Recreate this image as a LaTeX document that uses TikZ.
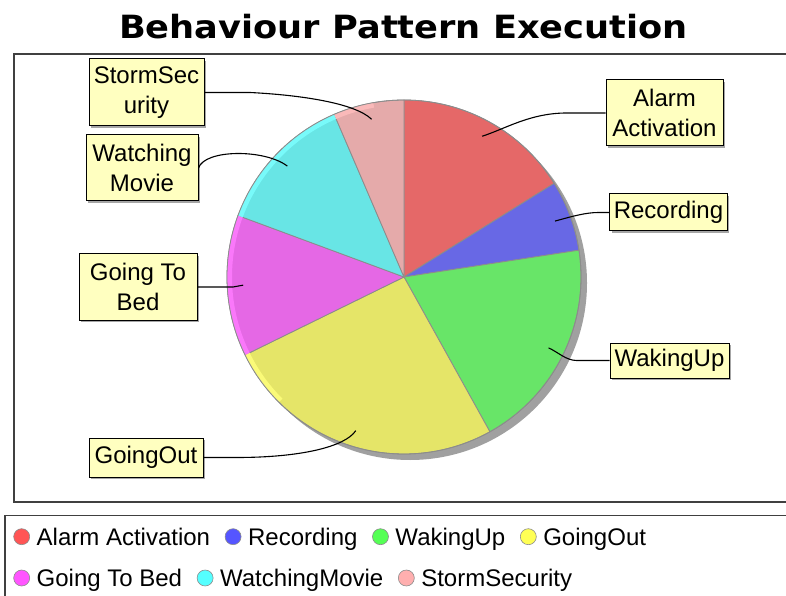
\documentclass[tikz,border=0pt]{standalone}
\usepackage{fontspec}
\usepackage{tikz}
\usetikzlibrary{positioning,shadows}

\newfontfamily\chartfont{Liberation Sans}
\newfontfamily\headfont{DejaVu Sans}

% slice colours
\definecolor{alarmred}{RGB}{229,104,104}
\definecolor{recblue}{RGB}{104,104,229}
\definecolor{wakegreen}{RGB}{104,229,104}
\definecolor{outyellow}{RGB}{229,229,104}
\definecolor{bedmagenta}{RGB}{229,104,229}
\definecolor{moviecyan}{RGB}{104,229,229}
\definecolor{stormpink}{RGB}{229,170,170}
% lighter rim
\definecolor{outrim}{RGB}{250,250,120}
\definecolor{bedrim}{RGB}{250,120,250}
\definecolor{movierim}{RGB}{120,250,250}
\definecolor{stormrim}{RGB}{250,185,185}
% legend colours
\definecolor{legred}{RGB}{255,85,85}
\definecolor{legblue}{RGB}{85,85,255}
\definecolor{leggreen}{RGB}{85,255,85}
\definecolor{legyellow}{RGB}{255,255,85}
\definecolor{legmagenta}{RGB}{255,85,255}
\definecolor{legcyan}{RGB}{85,255,255}
\definecolor{legpink}{RGB}{255,175,175}
\definecolor{lblyellow}{RGB}{255,255,192}
\definecolor{pieshadow}{RGB}{160,160,160}

\tikzset{
    % boxes for the slice labels
    pielabel/.style={
           rectangle,
           draw=black, line width=1pt,
           fill=lblyellow,
           minimum width=116pt,
           minimum height=37pt,
           inner xsep=4pt,
           align=center,
           font=\chartfont\fontsize{24}{30}\selectfont,
           drop shadow={shadow xshift=2pt, shadow yshift=-2pt, fill=black!35, opacity=1}},
    % line from a label into its slice
    leader/.style={
           draw=black, line width=1.1pt},
    % slice borders
    slice/.style={
           draw=black!45, line width=0.8pt},
    % legend marker
    legdot/.style={
           circle,
           draw=black!45, line width=0.6pt,
           minimum size=16pt,
           inner sep=0pt},
    % legend text
    legtext/.style={
           inner sep=0pt,
           text height=17.2pt,
           text depth=0pt,
           font=\chartfont\fontsize{24}{30}\selectfont}
}

\begin{document}
\begin{tikzpicture}[x=1pt,y=1pt,node distance=14.5pt]
\clip (0,0) rectangle (786,595);

 %title
\node[font=\headfont\bfseries\fontsize{32}{38}\selectfont, anchor=base, xscale=1.1] (title) at (403.5,556.7) {Behaviour Pattern Execution};

 %frames
\draw[black!75, line width=1.6pt] (14,93) rectangle (800,541);
\draw[black!75, line width=1.6pt] (5,-10) rectangle (800,79.5);

 %pie
\coordinate (pie) at (404,318);
\begin{scope}[shift={(pie)}]
  \fill[pieshadow] (6,-6) circle (177);
  \foreach \a/\b/\c in {90/31.94/alarmred, 31.94/8.71/recblue, 8.71/-60.97/wakegreen,
                        -60.97/-153.87/outyellow, -153.87/-200.32/bedmagenta,
                        -200.32/-246.77/moviecyan, -246.77/-270/stormpink}
     \filldraw[slice, fill=\c] (0,0) -- (\a:177) arc[start angle=\a, end angle=\b, radius=177] -- cycle;
  \foreach \a/\b/\c in {225/206.13/outrim, 206.13/159.68/bedrim,
                        159.68/113.23/movierim, 113.23/100/stormrim}
     \fill[\c] (\a:177) arc[start angle=\a, end angle=\b, radius=177]
        -- (\b:172) arc[start angle=\b, end angle=\a, radius=172] -- cycle;
  \draw[slice] (0,0) circle (177);
  % where the leaders end
  \coordinate (aAlarm) at (60.97:161);
  \coordinate (aRec) at (20.32:161);
  \coordinate (aWake) at (-26.13:161);
  \coordinate (aOut) at (-107.42:161);
  \coordinate (aBed) at (182.9:161);
  \coordinate (aMovie) at (136.45:161);
  \coordinate (aStorm) at (101.6:161);
\end{scope}

 %labels
\node[pielabel, minimum width=117pt, minimum height=66pt] (alarm) at (664.5,482) {Alarm\\Activation};
\node[pielabel, minimum width=117pt] (recording) at (668.5,382.5) {Recording};
\node[pielabel, minimum width=119pt, minimum height=35pt] (wakingup) at (669.5,234.5) {WakingUp};
\node[pielabel, minimum width=114pt, minimum height=39pt] (goingout) at (146,137.5) {GoingOut};
\node[pielabel, minimum width=118pt, minimum height=66pt] (bed) at (138,308) {Going To\\Bed};
\node[pielabel, minimum width=112pt, minimum height=66pt] (movie) at (142,427) {Watching\\Movie};
\node[pielabel, minimum width=115pt, minimum height=67pt] (storm) at (146.5,502.5) {StormSec\\urity};

 %leaders
\coordinate (eAlarm) at (566.7,482);
\coordinate (eRec) at (598.3,382.5);
\coordinate (eWake) at (576.7,234.5);
\coordinate (eOut) at (236.7,137.5);
\coordinate (eBed) at (233,308);
\coordinate (eStorm) at (250,502.5);

\draw[leader] (alarm.west) -- (eAlarm) .. controls (530,482) and (505,466) .. (aAlarm);
\draw[leader] (recording.west) -- (eRec) .. controls (585,382.5) and (570,378) .. (aRec);
\draw[leader] (wakingup.west) -- (eWake) .. controls (566,234.5) and (558,243) .. (aWake);
\draw[leader] (goingout.east) -- (eOut) .. controls (300,137.5) and (345,148) .. (aOut);
\draw[leader] (bed.east) -- (eBed) -- (aBed);
\draw[leader] (movie.east) .. controls (205,446) and (265,446) .. (aMovie);
\draw[leader] (storm.east) -- (eStorm) .. controls (300,500) and (355,492) .. (aStorm);

 %legend
\node[legdot, fill=legred] (d1) at (21.7,58.3) {};
\node[legtext, right=6.5pt of d1] (t1) {Alarm Activation};
\node[legdot, fill=legblue, right=of t1] (d2) {};
\node[legtext, right=6.5pt of d2] (t2) {Recording};
\node[legdot, fill=leggreen, right=of t2] (d3) {};
\node[legtext, right=6.5pt of d3] (t3) {WakingUp};
\node[legdot, fill=legyellow, right=of t3] (d4) {};
\node[legtext, right=6.5pt of d4] (t4) {GoingOut};

\node[legdot, fill=legmagenta] (d5) at (21.7,17) {};
\node[legtext, right=6.5pt of d5] (t5) {Going To Bed};
\node[legdot, fill=legcyan, right=of t5] (d6) {};
\node[legtext, right=6.5pt of d6] (t6) {WatchingMovie};
\node[legdot, fill=legpink, right=of t6] (d7) {};
\node[legtext, right=6.5pt of d7] (t7) {StormSecurity};

\end{tikzpicture}
\end{document}
